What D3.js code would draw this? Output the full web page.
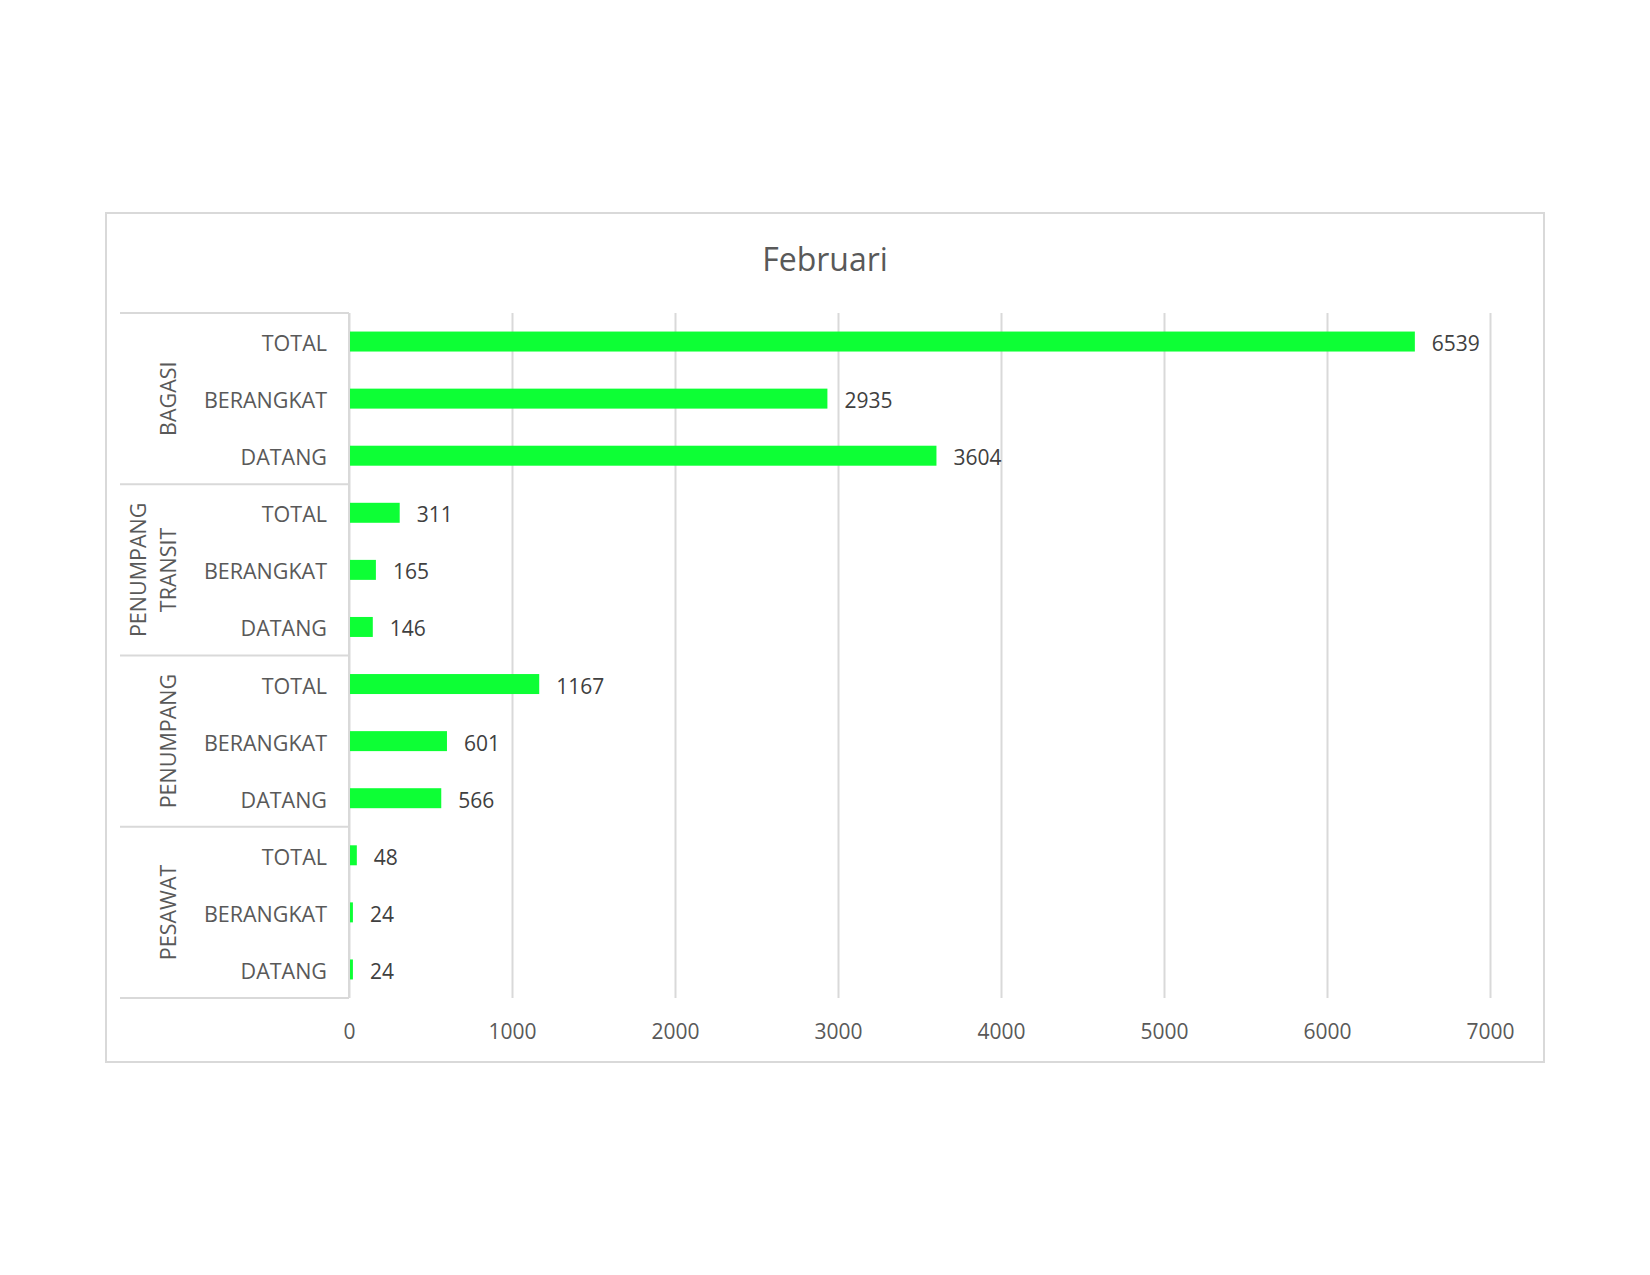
<!DOCTYPE html>
<html>
<head>
<meta charset="utf-8">
<script src="https://cdn.jsdelivr.net/npm/d3@7"></script>
<style>
  body { margin: 0; background: #fff; }
  text { font-family: "Open Sans", "Noto Sans", sans-serif; }
</style>
</head>
<body>
<svg id="chart"></svg>
<script>
const groups = ["BAGASI", "PENUMPANG TRANSIT", "PENUMPANG", "PESAWAT"]
const subcats = ["TOTAL", "BERANGKAT", "DATANG"]
const bagasi = [6539, 2935, 3604]
const transit = [311, 165, 146]
const penumpang = [1167, 601, 566]
const pesawat = [48, 24, 24]
const xTicks = [0, 1000, 2000, 3000, 4000, 5000, 6000, 7000]

const valuesByGroup = [bagasi, transit, penumpang, pesawat]

const rows = []
groups.forEach((g, gi) => {
  subcats.forEach((s, si) => {
    rows.push({key: g + "|" + s, group: g, sub: s, value: valuesByGroup[gi][si]})
  })
})

const width = 1650, height = 1275
const plot = {left: 349, right: 1490, top: 313, bottom: 998}
const gray = "#d9d9d9"

const svg = d3.select("#chart")
  .attr("width", width)
  .attr("height", height)

// chart frame
svg.append("rect")
  .attr("x", 106).attr("y", 213)
  .attr("width", 1544 - 106).attr("height", 1062 - 213)
  .attr("fill", "#fff")
  .attr("stroke", gray)
  .attr("stroke-width", 2)

svg.append("text")
  .attr("x", (106 + 1544) / 2)
  .attr("y", 258)
  .attr("text-anchor", "middle")
  .attr("dominant-baseline", "central")
  .attr("fill", "#595959")
  .attr("font-size", 32)
  .text("Februari")

const x = d3.scaleLinear()
  .domain([0, 7000])
  .range([plot.left, plot.right])

const y = d3.scaleBand()
  .domain(rows.map(d => d.key))
  .range([plot.top, plot.bottom])
  .paddingInner(0.65)
  .paddingOuter(0.325)

// gridlines
const grid = svg.append("g")
  .attr("transform", `translate(0, ${plot.bottom})`)
  .call(d3.axisBottom(x).tickValues(xTicks).tickSize(-(plot.bottom - plot.top)).tickFormat(""))
grid.select(".domain").remove()
grid.selectAll("line").attr("stroke", gray).attr("stroke-width", 2)

// tick labels
const xAxis = svg.append("g")
  .attr("transform", `translate(0, ${plot.bottom})`)
  .call(d3.axisBottom(x).tickValues(xTicks).tickSize(0).tickPadding(26).tickFormat(d3.format("d")))
xAxis.select(".domain").remove()
xAxis.selectAll("text")
  .attr("fill", "#595959")
  .attr("font-size", 21)
  .attr("font-family", "Open Sans, Noto Sans, sans-serif")

// category table lines
const step = y.step()
const tableLeft = 120
groups.forEach((g, i) => {
  svg.append("line")
    .attr("x1", tableLeft).attr("x2", plot.left)
    .attr("y1", plot.top + i * 3 * step).attr("y2", plot.top + i * 3 * step)
    .attr("stroke", gray).attr("stroke-width", 2)
})
svg.append("line")
  .attr("x1", tableLeft).attr("x2", plot.left)
  .attr("y1", plot.bottom).attr("y2", plot.bottom)
  .attr("stroke", gray).attr("stroke-width", 2)
svg.append("line")
  .attr("x1", plot.left).attr("x2", plot.left)
  .attr("y1", plot.top).attr("y2", plot.bottom)
  .attr("stroke", gray).attr("stroke-width", 2)

// bars
svg.append("g")
  .attr("fill", "#0dff35")
  .selectAll("rect")
  .data(rows)
  .join("rect")
  .attr("x", x(0) + 1)
  .attr("y", d => y(d.key))
  .attr("width", d => Math.max(0, x(d.value) - x(0) - 1))
  .attr("height", y.bandwidth())

// value labels
svg.append("g")
  .selectAll("text")
  .data(rows)
  .join("text")
  .attr("x", d => x(d.value) + 17)
  .attr("y", d => y(d.key) + y.bandwidth() / 2 + 1.5)
  .attr("dominant-baseline", "central")
  .attr("fill", "#404040")
  .attr("font-size", 21)
  .text(d => d.value)

// sub category labels
svg.append("g")
  .selectAll("text")
  .data(rows)
  .join("text")
  .attr("x", 327)
  .attr("y", d => y(d.key) + y.bandwidth() / 2 + 1)
  .attr("text-anchor", "end")
  .attr("dominant-baseline", "central")
  .attr("fill", "#595959")
  .attr("font-size", 21.5)
  .text(d => d.sub)

// group labels, rotated
groups.forEach((g, i) => {
  const cy = plot.top + (i * 3 + 1.5) * step
  const lines = g.split(" ")
  const t = svg.append("text")
    .attr("transform", `translate(167, ${cy}) rotate(-90)`)
    .attr("text-anchor", "middle")
    .attr("fill", "#595959")
    .attr("font-size", 21.5)
  lines.forEach((ln, li) => {
    t.append("tspan")
      .attr("x", 0)
      .attr("y", -30 * (lines.length - 1 - li))
      .attr("dominant-baseline", "central")
      .text(ln)
  })
})
</script>
</body>
</html>
